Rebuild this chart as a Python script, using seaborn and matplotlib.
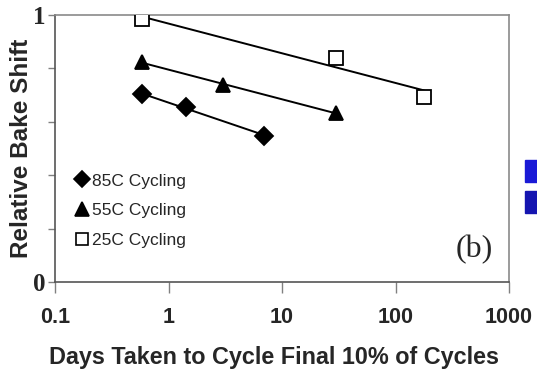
import numpy as np
import pandas as pd
import matplotlib
matplotlib.use("Agg")
import matplotlib.pyplot as plt
from matplotlib.lines import Line2D
from matplotlib.patches import Rectangle
import seaborn as sns

# data
days_85 = [0.58, 1.43, 7.0]
shift_85 = [0.703, 0.654, 0.548]
days_55 = [0.58, 3.0, 30.0]
shift_55 = [0.824, 0.738, 0.633]
days_25 = [0.58, 30.0, 178.0]
shift_25 = [0.983, 0.839, 0.693]
series_labels = ["85C Cycling", "55C Cycling", "25C Cycling"]
x_ticks = [0.1, 1, 10, 100, 1000]
x_tick_labels = ["0.1", "1", "10", "100", "1000"]

sns.set_style("white")
plt.rcParams["font.family"] = ["Liberation Sans", "DejaVu Sans"]

fig = plt.figure(figsize=(5.37, 3.74), dpi=100)
ax = fig.add_axes([0.1024, 0.246, 0.948 - 0.1024, 0.96 - 0.246])

markers = ["D", "^", "s"]
faces = ["black", "black", "white"]
sizes = [9, 10.5, 10]
datasets = [(days_85, shift_85), (days_55, shift_55), (days_25, shift_25)]

ax.set_xscale("log")
for (dx, dy), m, fc, ms, lab in zip(datasets, markers, faces, sizes, series_labels):
    df = pd.DataFrame({"x": dx, "y": dy})
    sns.regplot(data=df, x="x", y="y", logx=True, ci=None, scatter=False,
                truncate=True, ax=ax,
                line_kws=dict(color="black", lw=1.4, zorder=2))
    ax.plot(dx, dy, linestyle="none", marker=m, markersize=ms,
            markerfacecolor=fc, markeredgecolor="black", markeredgewidth=1.3,
            zorder=3)

ax.set_xlim(0.1, 1000)
ax.set_ylim(0, 1)
ax.set_xticks(x_ticks)
ax.set_xticklabels(x_tick_labels, fontsize=15.5, fontweight="bold")
ax.xaxis.set_minor_locator(matplotlib.ticker.NullLocator())
ax.set_yticks([0, 0.2, 0.4, 0.6, 0.8, 1.0])
ax.set_yticklabels(["0", "", "", "", "", "1"], fontsize=18, fontweight="bold",
                   family=["Liberation Serif"])
ax.tick_params(axis="x", direction="out", length=8, width=1, color="#808080",
               bottom=True, pad=10)
ax.tick_params(axis="y", direction="out", length=5, width=1, color="#808080",
               left=True, pad=2)
for s in ax.spines.values():
    s.set_color("#8a8a8a")
    s.set_linewidth(1.2)
ax.spines["bottom"].set_color("#555555")
ax.spines["left"].set_color("#555555")

ax.set_xlabel("Days Taken to Cycle Final 10% of Cycles", fontsize=16.8,
              fontweight="bold", labelpad=13)
ax.xaxis.label.set_x(0.482)
ax.set_ylabel("Relative Bake Shift", fontsize=17.5, fontweight="bold", labelpad=0)

handles = [Line2D([], [], linestyle="none", marker=m, markersize=ms - 1,
                  markerfacecolor=fc, markeredgecolor="black", markeredgewidth=1.2)
           for m, fc, ms in zip(markers, faces, sizes)]
leg = ax.legend(handles, series_labels, loc="lower left",
                bbox_to_anchor=(0.033, 0.10), frameon=False, fontsize=12.5,
                handlelength=0.6, handletextpad=0.25, labelspacing=0.85,
                borderaxespad=0)

ax.text(0.965, 0.12, "(b)", transform=ax.transAxes, fontsize=23,
        family="Liberation Serif", ha="right", va="center")

fig.patches.append(Rectangle((525 / 537, 1 - 182 / 374), 12 / 537, 22 / 374,
                             transform=fig.transFigure, color="#1a1ad6"))
fig.patches.append(Rectangle((525 / 537, 1 - 213 / 374), 12 / 537, 22 / 374,
                             transform=fig.transFigure, color="#1515b0"))

fig.savefig("out.png", dpi=100)
